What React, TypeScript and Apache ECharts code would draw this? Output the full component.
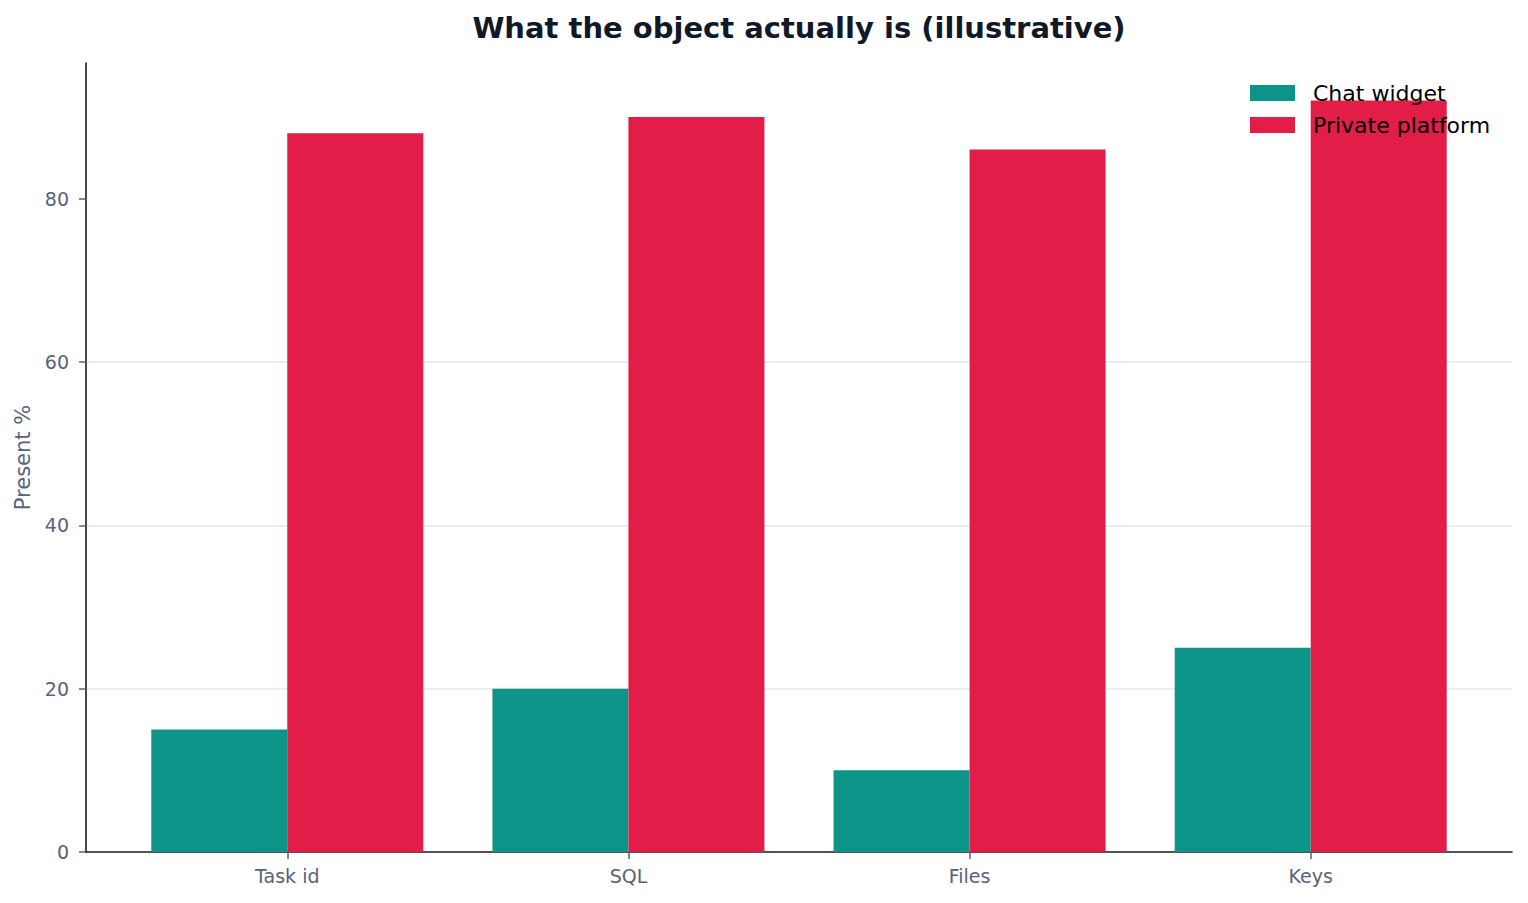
// Chat widget vs private platform — grouped bars, matplotlib-like look.
import * as React from "react";
import * as echarts from "echarts";

const categories = ["Task id", "SQL", "Files", "Keys"];
const chatWidget = [15, 20, 10, 25];
const privatePlatform = [88, 90, 86, 92];
const yTicks = [0, 20, 40, 60, 80];
const catIdx = categories.map((_, i) => i);

const FONT = '"DejaVu Sans", sans-serif';
const MUTED = "#586379";
const INK = "#1a1a1a";

export default function App() {
  const ref = React.useRef<HTMLDivElement | null>(null);

  React.useEffect(() => {
    document.body.style.margin = "0";
    if (!ref.current) return;
    const chart = echarts.init(ref.current, undefined, { renderer: "svg" });
    chart.setOption({
      animation: false,
      backgroundColor: "#ffffff",
      textStyle: { fontFamily: FONT },
      graphic: [
        {
          type: "text",
          x: 799,
          y: 28,
          style: {
            text: "What the object actually is (illustrative)",
            fill: "#111827",
            font: `bold 29px ${FONT}`,
            textAlign: "center",
            textVerticalAlign: "middle",
          },
        },
      ],
      legend: {
        orient: "vertical",
        left: 1245,
        top: 77,
        itemWidth: 45,
        itemHeight: 16,
        itemGap: 10,
        icon: "rect",
        textStyle: { color: "#000000", fontSize: 22, padding: [0, 0, 0, 13] },
        data: ["Chat widget", "Private platform"],
      },
      grid: { left: 86, right: 16, top: 63, bottom: 51 },
      xAxis: {
        type: "value",
        min: -0.59,
        max: 3.59,
        splitLine: { show: false },
        axisLine: { show: true, lineStyle: { color: INK, width: 1.6 } },
        axisTick: {
          show: true,
          customValues: catIdx,
          length: 7,
          lineStyle: { color: MUTED, width: 1.5 },
        },
        axisLabel: {
          customValues: catIdx,
          formatter: (v: number) => categories[Math.round(v)] ?? "",
          color: MUTED,
          fontSize: 19,
          margin: 14,
        },
      },
      yAxis: {
        type: "value",
        min: 0,
        max: 96.6,
        name: "Present %",
        nameLocation: "middle",
        nameGap: 52,
        nameTextStyle: { color: MUTED, fontSize: 21 },
        axisLine: { show: true, onZero: false, lineStyle: { color: INK, width: 1.6 } },
        axisTick: {
          show: true,
          customValues: yTicks,
          length: 7,
          lineStyle: { color: MUTED, width: 1.5 },
        },
        axisLabel: {
          customValues: yTicks,
          color: MUTED,
          fontSize: 19,
          margin: 17,
        },
        splitLine: {
          show: true,
          showMinLine: false,
          showMaxLine: false,
          lineStyle: { color: "#e5e7eb", width: 1.5 },
        },
      },
      series: [
        {
          name: "Chat widget",
          type: "bar",
          barWidth: 136,
          barGap: "0%",
          itemStyle: { color: "#0d9488" },
          data: chatWidget.map((v, i) => [i, v]),
        },
        {
          name: "Private platform",
          type: "bar",
          barWidth: 136,
          barGap: "0%",
          itemStyle: { color: "#e11d48" },
          data: privatePlatform.map((v, i) => [i, v]),
        },
      ],
    });
    return () => chart.dispose();
  }, []);

  return <div ref={ref} style={{ width: 1528, height: 903 }} />;
}
